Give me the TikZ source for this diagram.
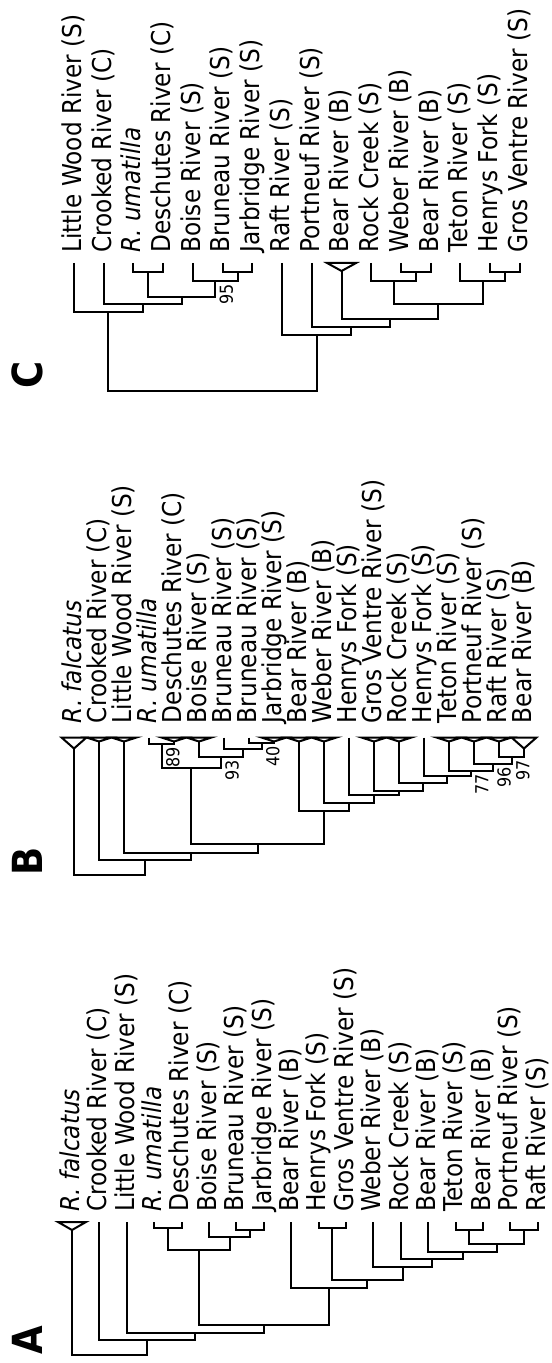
\documentclass[tikz,border=0pt]{standalone}
\usepackage{fontspec}
\setmainfont{DejaVu Sans}
\newcommand{\taxonsize}{\fontsize{11.6}{13}\selectfont}
\newcommand{\supportsize}{\fontsize{8}{9}\selectfont}
\newcommand{\panelsize}{\fontsize{18.5}{20}\selectfont\bfseries}
\tikzset{
  branch/.style={line width=1pt},
  taxon/.style={rotate=90, yscale=1.12, anchor=base west, inner sep=0pt, font=\taxonsize},
  support/.style={rotate=90, yscale=1.12, anchor=north east, inner sep=0pt, font=\supportsize},
  panel/.style={rotate=90, yscale=1.12, font=\panelsize}
}
\begin{document}
\begin{tikzpicture}[x=0.5pt, y=-0.5pt]
  \useasboundingbox (0,0) rectangle (551,1363);

  % panel C
  \node[panel] (pC) at (27,375) {C};
  \foreach \lab/\tri [count=\i] in {Little Wood River (S)/0,Crooked River (C)/0,
      \textit{R. umatilla}/0,Deschutes River (C)/0,Boise River (S)/0,Bruneau River (S)/0,
      Jarbridge River (S)/0,Raft River (S)/0,Portneuf River (S)/0,Bear River (B)/8,
      Rock Creek (S)/0,Weber River (B)/0,Bear River (B)/0,Teton River (S)/0,
      Henrys Fork (S)/0,Gros Ventre River (S)/0}{
    \pgfmathsetmacro{\lx}{74+(\i-1)*29.73}
    \coordinate (c\i) at (\lx,263+\tri);
    \node[taxon] (tc\i) at (\lx+7.3,253) {\lab};
    \ifnum\tri>0
      \draw[branch] (\lx-14.5,263) -- (\lx+14.5,263) -- (c\i) -- cycle;
    \fi
  }
  \coordinate (ca) at (148.3,272);
  \coordinate (cb) at (237.5,272);
  \coordinate (cc) at (215.2,281);
  \coordinate (cd) at (181.8,297);
  \coordinate (ce) at (142.7,304);
  \coordinate (cf) at (108.4,312);
  \coordinate (cg) at (415.9,272);
  \coordinate (ch) at (393.6,281);
  \coordinate (ci) at (505.1,272);
  \coordinate (cj) at (482.8,281);
  \coordinate (ck) at (438.2,304);
  \coordinate (cl) at (389.9,319);
  \coordinate (cm) at (350.9,327);
  \coordinate (cn) at (316.5,335);
  \coordinate (cr) at (212.5,391);
  \foreach \kid/\dad in {c3/ca,c4/ca,c6/cb,c7/cb,c5/cc,cb/cc,ca/cd,cc/cd,c2/ce,cd/ce,
      c1/cf,ce/cf,c12/cg,c13/cg,c11/ch,cg/ch,c15/ci,c16/ci,c14/cj,ci/cj,ch/ck,cj/ck,
      c10/cl,ck/cl,c9/cm,cl/cm,c8/cn,cm/cn,cf/cr,cn/cr}
    \draw[branch] (\kid) |- (\dad);
  \node[support] (s95) at ([shift={(4,3)}]cc) {95};

  % panel B
  \node[panel] (pB) at (27,861) {B};
  \foreach \lab/\tri [count=\i] in {\textit{R. falcatus}/11,Crooked River (C)/4,
      Little Wood River (S)/4,\textit{R. umatilla}/0,Deschutes River (C)/4,Boise River (S)/4,
      Bruneau River (S)/0,Bruneau River (S)/0,Jarbridge River (S)/4,Bear River (B)/4,
      Weber River (B)/4,Henrys Fork (S)/0,Gros Ventre River (S)/4,Rock Creek (S)/4,
      Henrys Fork (S)/0,Teton River (S)/4,Portneuf River (S)/4,Raft River (S)/4,
      Bear River (B)/11}{
    \pgfmathsetmacro{\lx}{74+(\i-1)*25}
    \coordinate (b\i) at (\lx,737.5+\tri);
    \node[taxon] (tb\i) at (\lx+7.3,723.5) {\lab};
    \ifnum\tri>0
      \draw[branch] (\lx-12.5,737.5) -- (\lx+12.5,737.5) -- (b\i) -- cycle;
    \fi
  }
  \coordinate (bud) at (161.5,744);
  \coordinate (bbj) at (261.5,743);
  \coordinate (bbb) at (242.8,749);
  \coordinate (bbo) at (220.9,757);
  \coordinate (bub) at (191.2,768);
  \coordinate (br9) at (511.5,757);
  \coordinate (br8) at (492.8,764);
  \coordinate (br7) at (470.9,771);
  \coordinate (br6) at (447.4,776);
  \coordinate (br5) at (423.2,783);
  \coordinate (br4) at (398.6,791);
  \coordinate (br3) at (373.8,795);
  \coordinate (br2) at (348.9,803);
  \coordinate (br1) at (324.0,811);
  \coordinate (bm) at (257.6,844);
  \coordinate (blw) at (190.8,853);
  \coordinate (bcr) at (144.9,860);
  \coordinate (brt) at (109.5,875);
  \foreach \kid/\dad in {b4/bud,b5/bud,b8/bbj,b9/bbj,b7/bbb,bbj/bbb,b6/bbo,bbb/bbo,
      bud/bub,bbo/bub,b18/br9,b19/br9,b17/br8,br9/br8,b16/br7,br8/br7,b15/br6,br7/br6,
      b14/br5,br6/br5,b13/br4,br5/br4,b12/br3,br4/br3,b11/br2,br3/br2,b10/br1,br2/br1,
      bub/bm,br1/bm,b3/blw,bm/blw,b2/bcr,blw/bcr,b1/brt,bcr/brt}
    \draw[branch] (\kid) |- (\dad);
  \node[support] (s89) at ([shift={(4,3)}]bud) {89};
  \node[support] (s93) at ([shift={(4,3)}]bbo) {93};
  \node[support] (s40) at ([shift={(4,3)}]bbj) {40};
  \node[support] (s97) at ([shift={(4,3)}]br9) {97};
  \node[support] (s96) at ([shift={(4,3)}]br8) {96};
  \node[support] (s77) at ([shift={(4,3)}]br7) {77};

  % panel A
  \node[panel] (pA) at (27,1340) {A};
  \foreach \lab/\tri [count=\i] in {\textit{R. falcatus}/8,Crooked River (C)/0,
      Little Wood River (S)/0,\textit{R. umatilla}/0,Deschutes River (C)/0,Boise River (S)/0,
      Bruneau River (S)/0,Jarbridge River (S)/0,Bear River (B)/0,Henrys Fork (S)/0,
      Gros Ventre River (S)/0,Weber River (B)/0,Rock Creek (S)/0,Bear River (B)/0,
      Teton River (S)/0,Bear River (B)/0,Portneuf River (S)/0,Raft River (S)/0}{
    \pgfmathsetmacro{\lx}{72+(\i-1)*27.4}
    \coordinate (a\i) at (\lx,1222+\tri);
    \node[taxon] (ta\i) at (\lx+7.3,1212) {\lab};
    \ifnum\tri>0
      \draw[branch] (\lx-14,1222) -- (\lx+14,1222) -- (a\i) -- cycle;
    \fi
  }
  \coordinate (aud) at (167.9,1228);
  \coordinate (abj) at (250.1,1230);
  \coordinate (abo) at (229.6,1237);
  \coordinate (aub) at (198.7,1250);
  \coordinate (ahg) at (332.3,1228);
  \coordinate (atb) at (469.3,1230);
  \coordinate (apr) at (524.1,1230);
  \coordinate (atp) at (496.7,1244);
  \coordinate (abt) at (462.5,1252);
  \coordinate (arc) at (431.6,1259);
  \coordinate (awe) at (402.5,1267);
  \coordinate (ahw) at (367.4,1280);
  \coordinate (abe) at (329.3,1288);
  \coordinate (aq) at (264.0,1325);
  \coordinate (alw) at (195.4,1333);
  \coordinate (acr) at (147.4,1340);
  \coordinate (art) at (109.7,1355);
  \foreach \kid/\dad in {a4/aud,a5/aud,a7/abj,a8/abj,a6/abo,abj/abo,aud/aub,abo/aub,
      a10/ahg,a11/ahg,a15/atb,a16/atb,a17/apr,a18/apr,atb/atp,apr/atp,a14/abt,atp/abt,
      a13/arc,abt/arc,a12/awe,arc/awe,ahg/ahw,awe/ahw,a9/abe,ahw/abe,aub/aq,abe/aq,
      a3/alw,aq/alw,a2/acr,alw/acr,a1/art,acr/art}
    \draw[branch] (\kid) |- (\dad);
\end{tikzpicture}
\end{document}
